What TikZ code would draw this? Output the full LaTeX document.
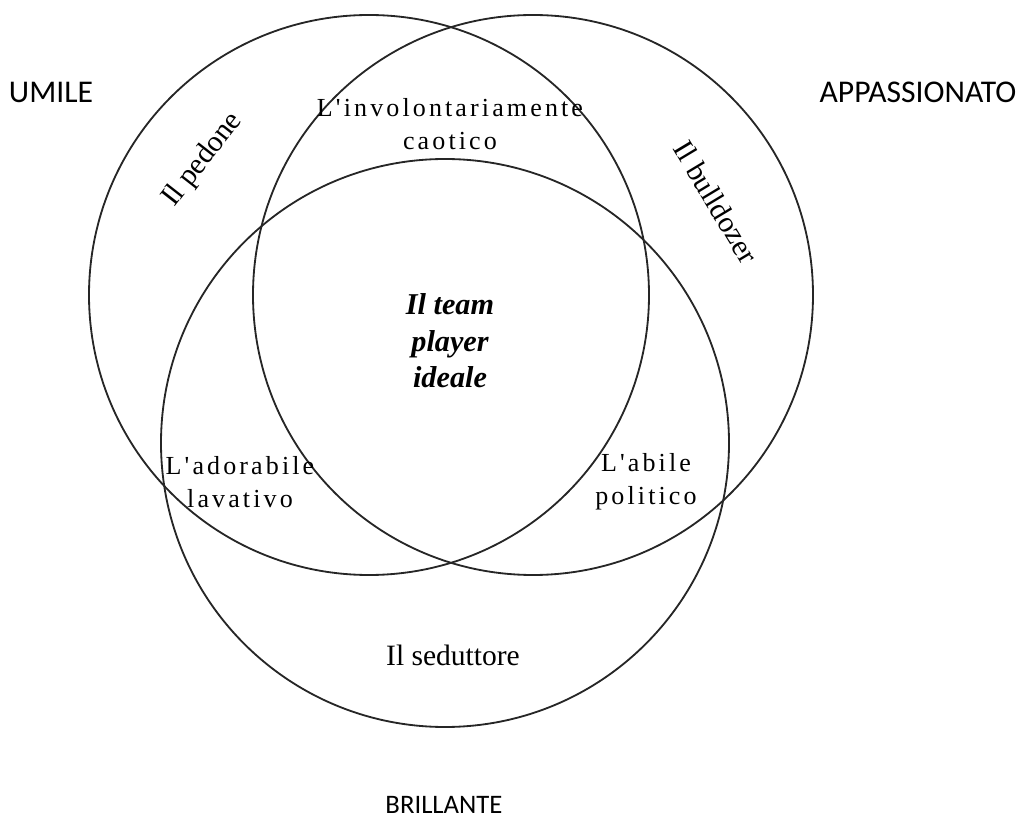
\documentclass[tikz,border=0pt]{standalone}
\usepackage{fontspec}
\setmainfont{Liberation Serif}
\newfontfamily\labelsans{Carlito}
\newfontfamily\widerm[LetterSpace=12]{Liberation Serif}
\begin{document}
\begin{tikzpicture}[x=0.025cm,y=-0.025cm,
  ring/.style={draw=black!85, line width=1.3pt},
  trait/.style={font=\labelsans\fontsize{22.5}{26}\selectfont},
  zone/.style={font=\fontsize{21}{25}\selectfont},
  small/.style={font=\widerm\fontsize{18.5}{23.5}\selectfont, align=center},
  core/.style={font=\bfseries\itshape\fontsize{21.5}{26}\selectfont, align=center}]
\useasboundingbox (0,0) rectangle (1028,819);
% the three overlapping circles
\draw[ring] (369,295) circle[radius=280];
\draw[ring] (533,295) circle[radius=280];
\draw[ring] (445,443) circle[radius=284];
% outer trait names
\node[trait] (umile) at (51,92) {UMILE};
\node[trait] (appass) at (918,92) {APPASSIONATO};
\node[trait, font=\labelsans\fontsize{19}{23}\selectfont] (brill) at (444,805) {BRILLANTE};
% single-circle regions
\node[zone, rotate=52] (pedone) at (203,160) {Il pedone};
\node[zone, rotate=-59] (bulldozer) at (716,202) {Il bulldozer};
\node[zone] (seduttore) at (453,655) {Il seduttore};
% pairwise overlaps
\node[small] (caotico) at (450,124) {L'involontariamente\\caotico};
\node[small] (lavativo) at (240,482) {L'adorabile\\lavativo};
\node[small] (politico) at (646,482) {L'abile\\politico};
% centre
\node[core] (ideale) at (450,341) {Il team\\player\\ideale};
\end{tikzpicture}
\end{document}
